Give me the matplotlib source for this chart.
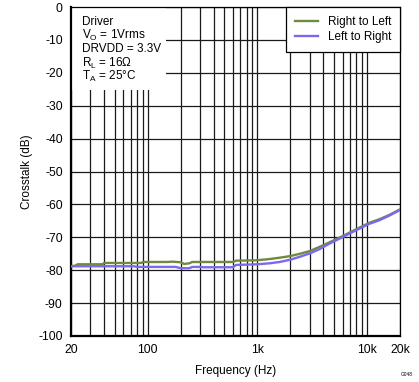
import matplotlib
matplotlib.use("Agg")
import matplotlib.pyplot as plt
from matplotlib.patches import Rectangle
from matplotlib.ticker import FixedLocator, LogLocator, NullFormatter

plt.rcParams['font.family'] = ['Liberation Sans', 'DejaVu Sans']

# Right to Left
freq_rl = [20, 22, 23, 39, 40, 88, 90, 150, 170, 200, 215, 240, 255, 600, 640, 950,
           1050, 1300, 1600, 2000, 2450, 3000, 3700, 4500, 5700, 7000, 8600, 10500,
           13000, 16000, 20000]
xtalk_rl = [-78.8, -78.6, -78.2, -78.2, -77.8, -77.8, -77.5, -77.5, -77.4, -77.6, -78.1,
            -77.9, -77.5, -77.5, -77.1, -77.0, -76.9, -76.6, -76.2, -75.7, -75.0, -74.2,
            -72.9, -71.6, -70.0, -68.5, -67.0, -65.6, -64.5, -63.2, -61.5]

# Left to Right
freq_lr = [20, 75, 80, 180, 200, 240, 255, 300, 320, 600, 640, 1000, 1300, 1600, 2000,
           2450, 3000, 3700, 4500, 5700, 7000, 8600, 10500, 13000, 16000, 20000]
xtalk_lr = [-78.8, -78.8, -79.0, -79.0, -79.4, -79.4, -79.0, -79.0, -79.1, -79.1, -78.4,
            -78.2, -77.9, -77.5, -76.8, -75.9, -74.9, -73.6, -72.0, -70.3, -68.8, -67.3,
            -65.9, -64.8, -63.4, -61.7]

xticks = [20, 100, 1000, 10000, 20000]
xticklabels = ["20", "100", "1k", "10k", "20k"]
yticks = list(range(-100, 1, 10))
yticklabels = [str(v) for v in yticks]

fig = plt.figure(figsize=(4.19, 3.82), dpi=100)
ax = fig.add_axes([71/419, 1-336/382, 329/419, 329/382])

ax.plot(freq_rl, xtalk_rl, color='#6E8B3D', lw=1.7, label='Right to Left', zorder=3)
ax.plot(freq_lr, xtalk_lr, color='#7B68EE', lw=1.7, label='Left to Right', zorder=3)

ax.set_xscale('log')
ax.set_xlim(20, 20000)
ax.set_ylim(-100, 0)
ax.xaxis.set_major_locator(FixedLocator(xticks))
ax.set_xticklabels(xticklabels)
ax.xaxis.set_minor_locator(LogLocator(base=10, subs=range(2, 10)))
ax.xaxis.set_minor_formatter(NullFormatter())
ax.set_yticks(yticks)
ax.set_yticklabels(yticklabels)
ax.tick_params(which='both', length=0, labelsize=8.7, pad=6)

ax.grid(True, which='major', color='#1a1a1a', lw=0.9)
ax.grid(True, which='minor', axis='x', color='#1a1a1a', lw=0.9)
ax.set_axisbelow(True)

for s in ['left', 'bottom']:
    ax.spines[s].set_linewidth(1.6)
for s in ['top', 'right']:
    ax.spines[s].set_linewidth(0.9)

ax.set_xlabel('Frequency (Hz)', fontsize=8.5, labelpad=6)
ax.set_ylabel('Crosstalk (dB)', fontsize=8.5, labelpad=4)

# annotation box
ax.add_patch(Rectangle((0, (336-90)/329), (166-71)/329, 1-(336-90)/329,
                       transform=ax.transAxes, facecolor='white', edgecolor='none', zorder=2.5))
lines = ['Driver', r'V$_\mathregular{O}$ = 1Vrms', 'DRVDD = 3.3V',
         r'R$_\mathregular{L}$ = 16Ω', r'T$_\mathregular{A}$ = 25°C']
for i, t in enumerate(lines):
    ax.text((82-71)/329, 1 - (15 + 13.7*i)/329, t, transform=ax.transAxes,
            fontsize=8.5, va='center', ha='left', zorder=4)

leg = ax.legend(loc='upper right', fontsize=8.5, frameon=True, fancybox=False,
                borderaxespad=0, handlelength=1.9, handletextpad=0.85,
                labelspacing=0.3, borderpad=0.75)
leg.get_frame().set_edgecolor('black')
leg.get_frame().set_linewidth(0.9)
leg.get_frame().set_alpha(1)

fig.text(407/419, 1-374/382, 'G048', fontsize=3.5, ha='center', va='center')

fig.savefig('out.png', dpi=100)
